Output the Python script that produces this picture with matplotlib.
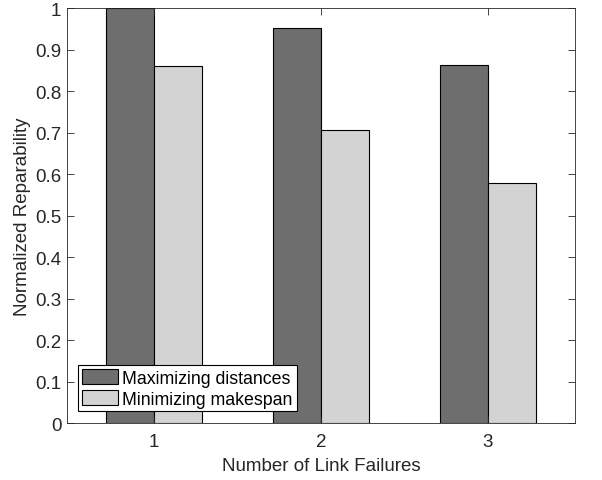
import matplotlib.pyplot as plt
import numpy as np

plt.rcParams['font.family'] = ['Liberation Sans', 'DejaVu Sans']

failures = [1, 2, 3]
max_distances = [1.0, 0.953, 0.863]
min_makespan = [0.861, 0.706, 0.578]
series_labels = ["Maximizing distances", "Minimizing makespan"]
yticks = np.round(np.arange(0, 1.01, 0.1), 1)

fig = plt.figure(figsize=(6.02, 4.81), dpi=100)
ax = fig.add_axes([0.111, 0.1185, 0.844, 0.8625])

x = np.array(failures)
w = 0.287
ax.bar(x - w / 2, max_distances, w, color="#6e6e6e", edgecolor="black",
       linewidth=0.8, label=series_labels[0])
ax.bar(x + w / 2, min_makespan, w, color="#d3d3d3", edgecolor="black",
       linewidth=0.8, label=series_labels[1])

ax.set_xlim(0.48, 3.52)
ax.set_ylim(0, 1)
ax.set_xticks(failures)
ax.set_yticks(yticks)
ax.set_yticklabels([f"{t:g}" for t in yticks])
ax.tick_params(direction="in", top=True, right=True, labelsize=13.5, length=5,
               width=0.6, colors="#262626")
ax.tick_params(axis="x", pad=7)
ax.tick_params(axis="y", pad=4)
for s in ax.spines.values():
    s.set_linewidth(0.6)
    s.set_color("#262626")

ax.set_xlabel("Number of Link Failures", fontsize=13.5, color="#262626",
              labelpad=5)
ax.set_ylabel("Normalized Reparability", fontsize=13.5, color="#262626",
              labelpad=3)

leg = ax.legend(loc="lower left", fontsize=12.8, fancybox=False, framealpha=1,
                edgecolor="black", handlelength=2.0, handleheight=0.95,
                borderaxespad=0.65, borderpad=0.22, labelspacing=0.17,
                handletextpad=0.25)
leg.get_frame().set_linewidth(0.8)

fig.savefig("out.png", dpi=100)
